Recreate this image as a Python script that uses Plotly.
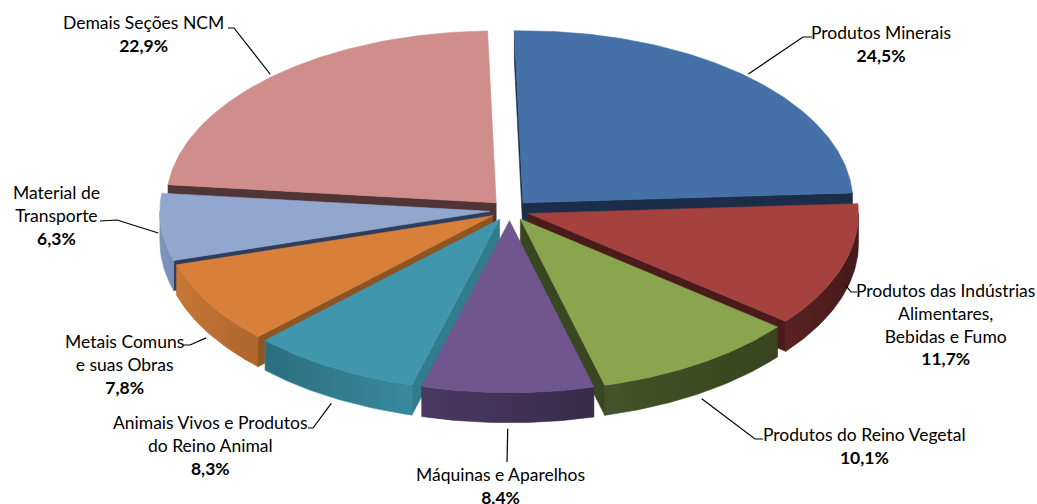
import numpy as np
import plotly.graph_objects as go

# ---------------- data ----------------
categories = [
    "Produtos Minerais",
    "Produtos das Indústrias Alimentares, Bebidas e Fumo",
    "Produtos do Reino Vegetal",
    "Máquinas e Aparelhos",
    "Animais Vivos e Produtos do Reino Animal",
    "Metais Comuns e suas Obras",
    "Material de Transporte",
    "Demais Seções NCM",
]
values = [24.5, 11.7, 10.1, 8.4, 8.3, 7.8, 6.3, 22.9]
label_lines = [
    "Produtos Minerais",
    "Produtos das Indústrias<br>Alimentares,<br>Bebidas e Fumo",
    "Produtos do Reino Vegetal",
    "Máquinas e Aparelhos",
    "Animais Vivos e Produtos<br>do Reino Animal",
    "Metais Comuns<br>e suas Obras",
    "Material de<br>Transporte",
    "Demais Seções NCM",
]

# ---------------- styles ----------------
top_colors = ["#4571A8", "#A5413F", "#89A54E", "#70558F", "#3F96AD", "#D8803A", "#91A7CF", "#CF8D8C"]
wall_colors = [("#1E3150", "#1E3150"), ("#5A2221", "#451A19"), ("#44532A", "#37441D"),
               ("#4A3A62", "#372A4A"), ("#2C6F7F", "#378A9C"), ("#C77735", "#AE652B"),
               ("#7E96BE", "#7890B8"), ("#553839", "#553839")]
face_colors = ["#1B2D48", "#4A1B1B", "#3A4620", "#3E3050", "#317C8D", "#8E5524", "#2D3D5A", "#513536"]

# label layout (text block centre, text-side leader end, elbow)
label_pos = [(881, 44), (945, 324), (864, 446), (500, 486), (210, 445), (124, 364), (56, 215), (143, 34)]
leader_text_end = [(812, 37), (857, 292), (763, 439), (507, 462), (308, 428), (183, 345), (100, 221), (228, 28)]
leader_elbow = [(803, 37), (851, 292), (755, 439), (507, 462), (313, 428), (190, 345), (117, 220), (234, 28)]

W, H = 1037, 504
CX, CY = 509.6, 210.4      # pie centre (pixel units)
A, B = 330.0, 172.0        # ellipse radii of top face
DEPTH = 30.0               # thickness of the pie
EXPLODE = 0.06             # explosion fraction
ROT = -1.5                 # first slice angle offset (deg)
FONT = "Lato, 'Open Sans', sans-serif"


def pt(theta, ox, oy, z=0.0):
    t = np.radians(theta + ROT)
    return CX + ox + A * np.sin(t), CY + oy - B * np.cos(t) + z


def arc(s, e, ox, oy, z=0.0):
    n = max(3, int(abs(e - s) / 0.7) + 2)
    th = np.linspace(s, e, n)
    xs, ys = pt(th, ox, oy, z)
    return list(xs), list(ys)


total = float(sum(values))
spans = [v / total * 360.0 for v in values]
starts = list(np.cumsum([0.0] + spans[:-1]))
ends = [s + d for s, d in zip(starts, spans)]
mids = [(s + e) / 2 for s, e in zip(starts, ends)]

fig = go.Figure()


def poly(xs, ys, color, grad=None, hover=None):
    kw = dict(x=xs + [xs[0]], y=ys + [ys[0]], mode="lines", fill="toself",
              line=dict(width=0.6, color=color), showlegend=False)
    if grad is not None:
        kw["fillgradient"] = dict(type="horizontal", colorscale=[[0, grad[0]], [1, grad[1]]])
        kw["line"] = dict(width=0.6, color=grad[1])
    else:
        kw["fillcolor"] = color
    if hover:
        kw["hoverinfo"] = "text"
        kw["text"] = hover
        kw["hoveron"] = "fills"
    else:
        kw["hoverinfo"] = "skip"
    fig.add_trace(go.Scatter(**kw))


order = sorted(range(len(values)), key=lambda i: -np.cos(np.radians(mids[i] + ROT)))
front_lo, front_hi = 90 - ROT, 270 - ROT

for i in order:
    s, e, m = starts[i], ends[i], mids[i]
    mr = np.radians(m + ROT)
    ox, oy = EXPLODE * A * np.sin(mr), -EXPLODE * B * np.cos(mr)
    ax, ay = CX + ox, CY + oy
    # radial faces
    if np.sin(np.radians(s + ROT)) < 0:
        x1, y1 = pt(s, ox, oy)
        poly([ax, x1, x1, ax], [ay, y1, y1 + DEPTH, ay + DEPTH], face_colors[i])
    if np.sin(np.radians(e + ROT)) > 0:
        x1, y1 = pt(e, ox, oy)
        poly([ax, x1, x1, ax], [ay, y1, y1 + DEPTH, ay + DEPTH], face_colors[i])
    # outer wall
    lo, hi = max(s, front_lo), min(e, front_hi)
    if hi > lo:
        xt, yt = arc(lo, hi, ox, oy)
        xb, yb = arc(hi, lo, ox, oy, DEPTH)
        poly(xt + xb, yt + yb, wall_colors[i][0], grad=wall_colors[i])
    # top face
    xt, yt = arc(s, e, ox, oy)
    pct = f"{values[i]:.1f}".replace(".", ",") + "%"
    poly([ax] + xt, [ay] + yt, top_colors[i], hover=f"{categories[i]}: {pct}")

# labels + leader lines
for i in range(len(values)):
    m = mids[i]
    mr = np.radians(m + ROT)
    ox, oy = EXPLODE * A * np.sin(mr), -EXPLODE * B * np.cos(mr)
    front = max(0.0, -np.cos(mr))
    z = DEPTH * min(1.0, 2 * front)
    px, py = pt(m, ox, oy, z)
    px += 3 * np.sin(mr)
    py += -3 * np.cos(mr) + (3 if front > 0.5 else 0)
    ex, ey = leader_elbow[i]
    tx, ty = leader_text_end[i]
    fig.add_trace(go.Scatter(x=[px, ex, tx], y=[py, ey, ty], mode="lines",
                             line=dict(color="black", width=1.2),
                             hoverinfo="skip", showlegend=False))
    pct = f"{values[i]:.1f}".replace(".", ",") + "%"
    lx, ly = label_pos[i]
    fig.add_annotation(x=lx, y=ly, xref="x", yref="y", showarrow=False,
                       text=f"{label_lines[i]}<br><b>{pct}</b>", align="center",
                       xanchor="center", yanchor="middle",
                       font=dict(family=FONT, size=17.5, color="black"))

fig.update_layout(
    width=W, height=H, margin=dict(l=0, r=0, t=0, b=0),
    paper_bgcolor="white", plot_bgcolor="white",
    xaxis=dict(range=[0, W], visible=False, fixedrange=True),
    yaxis=dict(range=[H, 0], visible=False, fixedrange=True),
    hovermode="closest",
)

fig.write_html("out.html", config={"displayModeBar": False},
               post_script="document.body.style.margin='0px';document.body.style.overflow='hidden';")
